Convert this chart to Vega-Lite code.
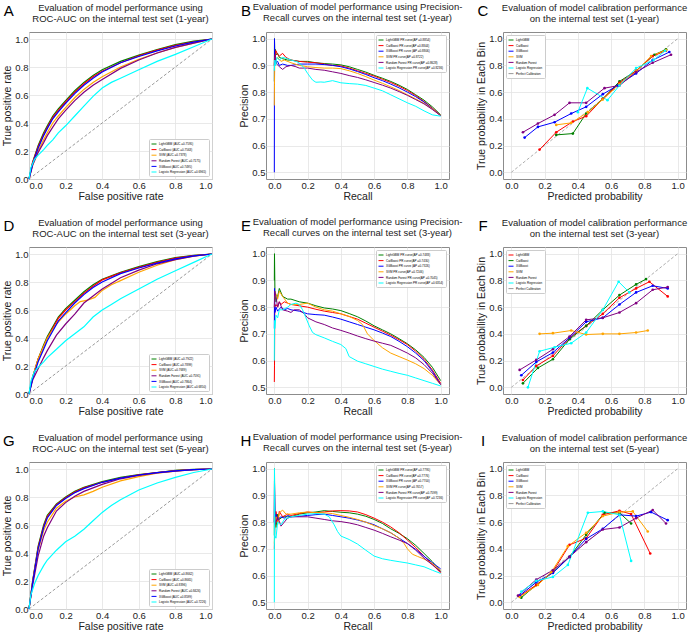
{
"$schema":"https://vega.github.io/schema/vega-lite/v6.json",
"padding":{"left":2,"top":1,"right":0,"bottom":0},
"background":"white",
"datasets":{
"rocA":[
{"m":"L","x":0,"y":0},{"m":"L","x":0.02,"y":0.12},{"m":"L","x":0.05,"y":0.24},{"m":"L","x":0.08,"y":0.33},{"m":"L","x":0.1,"y":0.38},{"m":"L","x":0.13,"y":0.45},{"m":"L","x":0.16,"y":0.5},{"m":"L","x":0.2,"y":0.56},{"m":"L","x":0.25,"y":0.63},{"m":"L","x":0.3,"y":0.69},{"m":"L","x":0.35,"y":0.74},{"m":"L","x":0.4,"y":0.78},{"m":"L","x":0.5,"y":0.84},{"m":"L","x":0.6,"y":0.885},{"m":"L","x":0.7,"y":0.925},{"m":"L","x":0.8,"y":0.96},{"m":"L","x":0.9,"y":0.985},{"m":"L","x":1,"y":1},
{"m":"C","x":0,"y":0},{"m":"C","x":0.02,"y":0.12},{"m":"C","x":0.05,"y":0.23},{"m":"C","x":0.08,"y":0.32},{"m":"C","x":0.1,"y":0.37},{"m":"C","x":0.13,"y":0.44},{"m":"C","x":0.16,"y":0.49},{"m":"C","x":0.2,"y":0.55},{"m":"C","x":0.25,"y":0.62},{"m":"C","x":0.3,"y":0.68},{"m":"C","x":0.35,"y":0.73},{"m":"C","x":0.4,"y":0.77},{"m":"C","x":0.5,"y":0.83},{"m":"C","x":0.6,"y":0.88},{"m":"C","x":0.7,"y":0.92},{"m":"C","x":0.8,"y":0.955},{"m":"C","x":0.9,"y":0.98},{"m":"C","x":1,"y":1},
{"m":"S","x":0,"y":0},{"m":"S","x":0.02,"y":0.1},{"m":"S","x":0.05,"y":0.2},{"m":"S","x":0.08,"y":0.28},{"m":"S","x":0.1,"y":0.33},{"m":"S","x":0.13,"y":0.4},{"m":"S","x":0.16,"y":0.45},{"m":"S","x":0.2,"y":0.51},{"m":"S","x":0.25,"y":0.58},{"m":"S","x":0.3,"y":0.64},{"m":"S","x":0.35,"y":0.69},{"m":"S","x":0.4,"y":0.73},{"m":"S","x":0.5,"y":0.8},{"m":"S","x":0.6,"y":0.855},{"m":"S","x":0.7,"y":0.9},{"m":"S","x":0.8,"y":0.94},{"m":"S","x":0.9,"y":0.97},{"m":"S","x":1,"y":1},
{"m":"R","x":0,"y":0},{"m":"R","x":0.02,"y":0.1},{"m":"R","x":0.05,"y":0.19},{"m":"R","x":0.08,"y":0.26},{"m":"R","x":0.1,"y":0.31},{"m":"R","x":0.13,"y":0.37},{"m":"R","x":0.16,"y":0.43},{"m":"R","x":0.2,"y":0.49},{"m":"R","x":0.25,"y":0.56},{"m":"R","x":0.3,"y":0.62},{"m":"R","x":0.35,"y":0.67},{"m":"R","x":0.4,"y":0.71},{"m":"R","x":0.5,"y":0.79},{"m":"R","x":0.6,"y":0.85},{"m":"R","x":0.7,"y":0.9},{"m":"R","x":0.8,"y":0.94},{"m":"R","x":0.9,"y":0.97},{"m":"R","x":1,"y":1},
{"m":"X","x":0,"y":0},{"m":"X","x":0.02,"y":0.11},{"m":"X","x":0.05,"y":0.22},{"m":"X","x":0.08,"y":0.31},{"m":"X","x":0.1,"y":0.36},{"m":"X","x":0.13,"y":0.43},{"m":"X","x":0.16,"y":0.48},{"m":"X","x":0.2,"y":0.54},{"m":"X","x":0.25,"y":0.61},{"m":"X","x":0.3,"y":0.67},{"m":"X","x":0.35,"y":0.72},{"m":"X","x":0.4,"y":0.765},{"m":"X","x":0.5,"y":0.83},{"m":"X","x":0.6,"y":0.875},{"m":"X","x":0.7,"y":0.915},{"m":"X","x":0.8,"y":0.95},{"m":"X","x":0.9,"y":0.978},{"m":"X","x":1,"y":1},
{"m":"G","x":0,"y":0},{"m":"G","x":0.01,"y":0.08},{"m":"G","x":0.03,"y":0.14},{"m":"G","x":0.05,"y":0.17},{"m":"G","x":0.08,"y":0.21},{"m":"G","x":0.1,"y":0.24},{"m":"G","x":0.13,"y":0.28},{"m":"G","x":0.16,"y":0.33},{"m":"G","x":0.2,"y":0.38},{"m":"G","x":0.25,"y":0.45},{"m":"G","x":0.3,"y":0.52},{"m":"G","x":0.35,"y":0.59},{"m":"G","x":0.4,"y":0.65},{"m":"G","x":0.45,"y":0.69},{"m":"G","x":0.5,"y":0.72},{"m":"G","x":0.6,"y":0.78},{"m":"G","x":0.7,"y":0.84},{"m":"G","x":0.8,"y":0.89},{"m":"G","x":0.9,"y":0.945},{"m":"G","x":1,"y":1}
],
"rocD":[
{"m":"L","x":0,"y":0},{"m":"L","x":0.02,"y":0.12},{"m":"L","x":0.05,"y":0.25},{"m":"L","x":0.08,"y":0.35},{"m":"L","x":0.1,"y":0.41},{"m":"L","x":0.13,"y":0.48},{"m":"L","x":0.16,"y":0.55},{"m":"L","x":0.2,"y":0.61},{"m":"L","x":0.25,"y":0.67},{"m":"L","x":0.3,"y":0.73},{"m":"L","x":0.35,"y":0.78},{"m":"L","x":0.4,"y":0.82},{"m":"L","x":0.5,"y":0.87},{"m":"L","x":0.6,"y":0.91},{"m":"L","x":0.7,"y":0.945},{"m":"L","x":0.8,"y":0.975},{"m":"L","x":0.9,"y":0.99},{"m":"L","x":1,"y":1},
{"m":"C","x":0,"y":0},{"m":"C","x":0.02,"y":0.12},{"m":"C","x":0.05,"y":0.25},{"m":"C","x":0.08,"y":0.34},{"m":"C","x":0.1,"y":0.4},{"m":"C","x":0.13,"y":0.47},{"m":"C","x":0.16,"y":0.54},{"m":"C","x":0.2,"y":0.6},{"m":"C","x":0.25,"y":0.66},{"m":"C","x":0.3,"y":0.72},{"m":"C","x":0.35,"y":0.77},{"m":"C","x":0.4,"y":0.815},{"m":"C","x":0.5,"y":0.865},{"m":"C","x":0.6,"y":0.905},{"m":"C","x":0.7,"y":0.94},{"m":"C","x":0.8,"y":0.97},{"m":"C","x":0.9,"y":0.988},{"m":"C","x":1,"y":1},
{"m":"S","x":0,"y":0},{"m":"S","x":0.02,"y":0.12},{"m":"S","x":0.05,"y":0.25},{"m":"S","x":0.08,"y":0.34},{"m":"S","x":0.1,"y":0.4},{"m":"S","x":0.15,"y":0.5},{"m":"S","x":0.2,"y":0.57},{"m":"S","x":0.25,"y":0.63},{"m":"S","x":0.28,"y":0.66},{"m":"S","x":0.32,"y":0.67},{"m":"S","x":0.36,"y":0.69},{"m":"S","x":0.4,"y":0.74},{"m":"S","x":0.45,"y":0.78},{"m":"S","x":0.5,"y":0.81},{"m":"S","x":0.6,"y":0.87},{"m":"S","x":0.7,"y":0.92},{"m":"S","x":0.8,"y":0.96},{"m":"S","x":0.9,"y":0.985},{"m":"S","x":1,"y":1},
{"m":"R","x":0,"y":0},{"m":"R","x":0.02,"y":0.1},{"m":"R","x":0.05,"y":0.18},{"m":"R","x":0.08,"y":0.26},{"m":"R","x":0.1,"y":0.31},{"m":"R","x":0.15,"y":0.42},{"m":"R","x":0.2,"y":0.5},{"m":"R","x":0.25,"y":0.57},{"m":"R","x":0.3,"y":0.65},{"m":"R","x":0.35,"y":0.7},{"m":"R","x":0.4,"y":0.75},{"m":"R","x":0.5,"y":0.83},{"m":"R","x":0.6,"y":0.885},{"m":"R","x":0.7,"y":0.93},{"m":"R","x":0.8,"y":0.96},{"m":"R","x":0.9,"y":0.985},{"m":"R","x":1,"y":1},
{"m":"X","x":0,"y":0},{"m":"X","x":0.02,"y":0.11},{"m":"X","x":0.05,"y":0.23},{"m":"X","x":0.08,"y":0.32},{"m":"X","x":0.1,"y":0.38},{"m":"X","x":0.13,"y":0.45},{"m":"X","x":0.16,"y":0.52},{"m":"X","x":0.2,"y":0.58},{"m":"X","x":0.25,"y":0.65},{"m":"X","x":0.3,"y":0.71},{"m":"X","x":0.35,"y":0.76},{"m":"X","x":0.4,"y":0.8},{"m":"X","x":0.5,"y":0.86},{"m":"X","x":0.6,"y":0.9},{"m":"X","x":0.7,"y":0.935},{"m":"X","x":0.8,"y":0.965},{"m":"X","x":0.9,"y":0.986},{"m":"X","x":1,"y":1},
{"m":"G","x":0,"y":0},{"m":"G","x":0.01,"y":0.09},{"m":"G","x":0.03,"y":0.16},{"m":"G","x":0.05,"y":0.19},{"m":"G","x":0.08,"y":0.23},{"m":"G","x":0.1,"y":0.26},{"m":"G","x":0.15,"y":0.32},{"m":"G","x":0.2,"y":0.38},{"m":"G","x":0.25,"y":0.43},{"m":"G","x":0.3,"y":0.48},{"m":"G","x":0.35,"y":0.55},{"m":"G","x":0.4,"y":0.6},{"m":"G","x":0.45,"y":0.64},{"m":"G","x":0.5,"y":0.68},{"m":"G","x":0.6,"y":0.75},{"m":"G","x":0.7,"y":0.82},{"m":"G","x":0.8,"y":0.88},{"m":"G","x":0.9,"y":0.94},{"m":"G","x":1,"y":1}
],
"rocG":[
{"m":"L","x":0,"y":0},{"m":"L","x":0.02,"y":0.2},{"m":"L","x":0.05,"y":0.45},{"m":"L","x":0.08,"y":0.6},{"m":"L","x":0.1,"y":0.67},{"m":"L","x":0.15,"y":0.75},{"m":"L","x":0.2,"y":0.8},{"m":"L","x":0.25,"y":0.84},{"m":"L","x":0.3,"y":0.87},{"m":"L","x":0.4,"y":0.91},{"m":"L","x":0.5,"y":0.94},{"m":"L","x":0.6,"y":0.96},{"m":"L","x":0.7,"y":0.975},{"m":"L","x":0.8,"y":0.99},{"m":"L","x":0.9,"y":0.997},{"m":"L","x":1,"y":1},
{"m":"C","x":0,"y":0},{"m":"C","x":0.02,"y":0.2},{"m":"C","x":0.05,"y":0.44},{"m":"C","x":0.08,"y":0.59},{"m":"C","x":0.1,"y":0.66},{"m":"C","x":0.15,"y":0.745},{"m":"C","x":0.2,"y":0.795},{"m":"C","x":0.25,"y":0.835},{"m":"C","x":0.3,"y":0.865},{"m":"C","x":0.4,"y":0.905},{"m":"C","x":0.5,"y":0.935},{"m":"C","x":0.6,"y":0.958},{"m":"C","x":0.7,"y":0.975},{"m":"C","x":0.8,"y":0.988},{"m":"C","x":0.9,"y":0.996},{"m":"C","x":1,"y":1},
{"m":"S","x":0,"y":0},{"m":"S","x":0.02,"y":0.19},{"m":"S","x":0.05,"y":0.42},{"m":"S","x":0.08,"y":0.56},{"m":"S","x":0.1,"y":0.62},{"m":"S","x":0.15,"y":0.72},{"m":"S","x":0.2,"y":0.77},{"m":"S","x":0.25,"y":0.8},{"m":"S","x":0.3,"y":0.815},{"m":"S","x":0.35,"y":0.84},{"m":"S","x":0.4,"y":0.87},{"m":"S","x":0.5,"y":0.915},{"m":"S","x":0.6,"y":0.945},{"m":"S","x":0.7,"y":0.97},{"m":"S","x":0.8,"y":0.985},{"m":"S","x":0.9,"y":0.995},{"m":"S","x":1,"y":1},
{"m":"R","x":0,"y":0},{"m":"R","x":0.02,"y":0.17},{"m":"R","x":0.05,"y":0.38},{"m":"R","x":0.08,"y":0.52},{"m":"R","x":0.1,"y":0.58},{"m":"R","x":0.15,"y":0.7},{"m":"R","x":0.2,"y":0.76},{"m":"R","x":0.25,"y":0.805},{"m":"R","x":0.3,"y":0.84},{"m":"R","x":0.4,"y":0.89},{"m":"R","x":0.5,"y":0.93},{"m":"R","x":0.6,"y":0.955},{"m":"R","x":0.7,"y":0.972},{"m":"R","x":0.8,"y":0.985},{"m":"R","x":0.9,"y":0.995},{"m":"R","x":1,"y":1},
{"m":"X","x":0,"y":0},{"m":"X","x":0.02,"y":0.19},{"m":"X","x":0.05,"y":0.43},{"m":"X","x":0.08,"y":0.58},{"m":"X","x":0.1,"y":0.65},{"m":"X","x":0.15,"y":0.74},{"m":"X","x":0.2,"y":0.79},{"m":"X","x":0.25,"y":0.83},{"m":"X","x":0.3,"y":0.86},{"m":"X","x":0.4,"y":0.905},{"m":"X","x":0.5,"y":0.935},{"m":"X","x":0.6,"y":0.957},{"m":"X","x":0.7,"y":0.974},{"m":"X","x":0.8,"y":0.987},{"m":"X","x":0.9,"y":0.996},{"m":"X","x":1,"y":1},
{"m":"G","x":0,"y":0},{"m":"G","x":0.01,"y":0.1},{"m":"G","x":0.03,"y":0.18},{"m":"G","x":0.05,"y":0.24},{"m":"G","x":0.08,"y":0.31},{"m":"G","x":0.1,"y":0.35},{"m":"G","x":0.15,"y":0.42},{"m":"G","x":0.2,"y":0.48},{"m":"G","x":0.25,"y":0.52},{"m":"G","x":0.3,"y":0.57},{"m":"G","x":0.35,"y":0.63},{"m":"G","x":0.4,"y":0.69},{"m":"G","x":0.45,"y":0.74},{"m":"G","x":0.5,"y":0.78},{"m":"G","x":0.6,"y":0.85},{"m":"G","x":0.7,"y":0.9},{"m":"G","x":0.8,"y":0.94},{"m":"G","x":0.9,"y":0.975},{"m":"G","x":1,"y":1}
],
"prB":[
{"m":"L","x":0,"y":0.84},{"m":"L","x":0.001,"y":1.0},{"m":"L","x":0.003,"y":0.93},{"m":"L","x":0.006,"y":0.96},{"m":"L","x":0.01,"y":0.94},{"m":"L","x":0.02,"y":0.945},{"m":"L","x":0.03,"y":0.93},{"m":"L","x":0.05,"y":0.925},{"m":"L","x":0.08,"y":0.92},{"m":"L","x":0.1,"y":0.92},{"m":"L","x":0.15,"y":0.915},{"m":"L","x":0.2,"y":0.915},{"m":"L","x":0.25,"y":0.91},{"m":"L","x":0.3,"y":0.907},{"m":"L","x":0.35,"y":0.905},{"m":"L","x":0.4,"y":0.902},{"m":"L","x":0.45,"y":0.895},{"m":"L","x":0.5,"y":0.885},{"m":"L","x":0.55,"y":0.875},{"m":"L","x":0.6,"y":0.863},{"m":"L","x":0.65,"y":0.852},{"m":"L","x":0.7,"y":0.84},{"m":"L","x":0.75,"y":0.826},{"m":"L","x":0.8,"y":0.81},{"m":"L","x":0.85,"y":0.79},{"m":"L","x":0.9,"y":0.77},{"m":"L","x":0.95,"y":0.745},{"m":"L","x":1,"y":0.715},
{"m":"C","x":0,"y":0.9},{"m":"C","x":0.002,"y":0.96},{"m":"C","x":0.005,"y":0.93},{"m":"C","x":0.01,"y":0.955},{"m":"C","x":0.02,"y":0.94},{"m":"C","x":0.03,"y":0.935},{"m":"C","x":0.05,"y":0.945},{"m":"C","x":0.07,"y":0.93},{"m":"C","x":0.1,"y":0.92},{"m":"C","x":0.15,"y":0.915},{"m":"C","x":0.2,"y":0.912},{"m":"C","x":0.25,"y":0.91},{"m":"C","x":0.3,"y":0.905},{"m":"C","x":0.35,"y":0.9},{"m":"C","x":0.4,"y":0.898},{"m":"C","x":0.45,"y":0.89},{"m":"C","x":0.5,"y":0.88},{"m":"C","x":0.55,"y":0.87},{"m":"C","x":0.6,"y":0.86},{"m":"C","x":0.65,"y":0.848},{"m":"C","x":0.7,"y":0.836},{"m":"C","x":0.75,"y":0.822},{"m":"C","x":0.8,"y":0.806},{"m":"C","x":0.85,"y":0.787},{"m":"C","x":0.9,"y":0.765},{"m":"C","x":0.95,"y":0.74},{"m":"C","x":1,"y":0.713},
{"m":"X","x":0,"y":0.5},{"m":"X","x":0.001,"y":1.0},{"m":"X","x":0.003,"y":0.9},{"m":"X","x":0.006,"y":0.93},{"m":"X","x":0.01,"y":0.91},{"m":"X","x":0.02,"y":0.915},{"m":"X","x":0.03,"y":0.9},{"m":"X","x":0.05,"y":0.905},{"m":"X","x":0.08,"y":0.9},{"m":"X","x":0.1,"y":0.9},{"m":"X","x":0.15,"y":0.905},{"m":"X","x":0.2,"y":0.905},{"m":"X","x":0.25,"y":0.905},{"m":"X","x":0.3,"y":0.903},{"m":"X","x":0.35,"y":0.9},{"m":"X","x":0.4,"y":0.895},{"m":"X","x":0.45,"y":0.887},{"m":"X","x":0.5,"y":0.877},{"m":"X","x":0.55,"y":0.866},{"m":"X","x":0.6,"y":0.854},{"m":"X","x":0.65,"y":0.843},{"m":"X","x":0.7,"y":0.83},{"m":"X","x":0.75,"y":0.816},{"m":"X","x":0.8,"y":0.8},{"m":"X","x":0.85,"y":0.783},{"m":"X","x":0.9,"y":0.763},{"m":"X","x":0.95,"y":0.738},{"m":"X","x":1,"y":0.712},
{"m":"S","x":0,"y":0.75},{"m":"S","x":0.001,"y":0.83},{"m":"S","x":0.003,"y":0.93},{"m":"S","x":0.01,"y":0.92},{"m":"S","x":0.02,"y":0.93},{"m":"S","x":0.04,"y":0.915},{"m":"S","x":0.06,"y":0.92},{"m":"S","x":0.1,"y":0.91},{"m":"S","x":0.15,"y":0.9},{"m":"S","x":0.2,"y":0.895},{"m":"S","x":0.25,"y":0.892},{"m":"S","x":0.3,"y":0.89},{"m":"S","x":0.35,"y":0.89},{"m":"S","x":0.4,"y":0.888},{"m":"S","x":0.45,"y":0.88},{"m":"S","x":0.5,"y":0.87},{"m":"S","x":0.55,"y":0.858},{"m":"S","x":0.6,"y":0.845},{"m":"S","x":0.65,"y":0.833},{"m":"S","x":0.7,"y":0.82},{"m":"S","x":0.75,"y":0.806},{"m":"S","x":0.8,"y":0.79},{"m":"S","x":0.85,"y":0.775},{"m":"S","x":0.9,"y":0.758},{"m":"S","x":0.95,"y":0.737},{"m":"S","x":1,"y":0.712},
{"m":"R","x":0,"y":0.9},{"m":"R","x":0.003,"y":0.94},{"m":"R","x":0.008,"y":0.92},{"m":"R","x":0.015,"y":0.905},{"m":"R","x":0.03,"y":0.895},{"m":"R","x":0.05,"y":0.885},{"m":"R","x":0.07,"y":0.895},{"m":"R","x":0.1,"y":0.9},{"m":"R","x":0.13,"y":0.895},{"m":"R","x":0.15,"y":0.89},{"m":"R","x":0.2,"y":0.89},{"m":"R","x":0.25,"y":0.885},{"m":"R","x":0.3,"y":0.882},{"m":"R","x":0.35,"y":0.876},{"m":"R","x":0.4,"y":0.87},{"m":"R","x":0.45,"y":0.862},{"m":"R","x":0.5,"y":0.855},{"m":"R","x":0.55,"y":0.846},{"m":"R","x":0.6,"y":0.836},{"m":"R","x":0.65,"y":0.826},{"m":"R","x":0.7,"y":0.815},{"m":"R","x":0.75,"y":0.802},{"m":"R","x":0.8,"y":0.788},{"m":"R","x":0.85,"y":0.772},{"m":"R","x":0.9,"y":0.756},{"m":"R","x":0.95,"y":0.735},{"m":"R","x":1,"y":0.712},
{"m":"G","x":0,"y":0.88},{"m":"G","x":0.003,"y":0.92},{"m":"G","x":0.008,"y":0.9},{"m":"G","x":0.015,"y":0.93},{"m":"G","x":0.03,"y":0.92},{"m":"G","x":0.05,"y":0.93},{"m":"G","x":0.08,"y":0.925},{"m":"G","x":0.1,"y":0.92},{"m":"G","x":0.13,"y":0.915},{"m":"G","x":0.15,"y":0.91},{"m":"G","x":0.18,"y":0.89},{"m":"G","x":0.2,"y":0.87},{"m":"G","x":0.23,"y":0.845},{"m":"G","x":0.25,"y":0.837},{"m":"G","x":0.28,"y":0.838},{"m":"G","x":0.3,"y":0.837},{"m":"G","x":0.35,"y":0.843},{"m":"G","x":0.4,"y":0.835},{"m":"G","x":0.45,"y":0.832},{"m":"G","x":0.5,"y":0.83},{"m":"G","x":0.55,"y":0.825},{"m":"G","x":0.6,"y":0.815},{"m":"G","x":0.65,"y":0.805},{"m":"G","x":0.7,"y":0.79},{"m":"G","x":0.75,"y":0.775},{"m":"G","x":0.8,"y":0.76},{"m":"G","x":0.85,"y":0.747},{"m":"G","x":0.9,"y":0.73},{"m":"G","x":0.95,"y":0.715},{"m":"G","x":1,"y":0.71}
],
"prE":[
{"m":"L","x":0,"y":0.9},{"m":"L","x":0.001,"y":1.0},{"m":"L","x":0.004,"y":0.85},{"m":"L","x":0.01,"y":0.82},{"m":"L","x":0.02,"y":0.84},{"m":"L","x":0.03,"y":0.87},{"m":"L","x":0.05,"y":0.84},{"m":"L","x":0.08,"y":0.83},{"m":"L","x":0.1,"y":0.83},{"m":"L","x":0.15,"y":0.82},{"m":"L","x":0.2,"y":0.815},{"m":"L","x":0.25,"y":0.805},{"m":"L","x":0.3,"y":0.797},{"m":"L","x":0.35,"y":0.793},{"m":"L","x":0.4,"y":0.787},{"m":"L","x":0.45,"y":0.776},{"m":"L","x":0.5,"y":0.764},{"m":"L","x":0.55,"y":0.748},{"m":"L","x":0.6,"y":0.73},{"m":"L","x":0.65,"y":0.715},{"m":"L","x":0.7,"y":0.7},{"m":"L","x":0.75,"y":0.682},{"m":"L","x":0.8,"y":0.663},{"m":"L","x":0.85,"y":0.64},{"m":"L","x":0.9,"y":0.612},{"m":"L","x":0.95,"y":0.575},{"m":"L","x":1,"y":0.525},
{"m":"C","x":0,"y":0.52},{"m":"C","x":0.001,"y":0.58},{"m":"C","x":0.003,"y":0.8},{"m":"C","x":0.01,"y":0.81},{"m":"C","x":0.02,"y":0.8},{"m":"C","x":0.03,"y":0.82},{"m":"C","x":0.04,"y":0.81},{"m":"C","x":0.06,"y":0.82},{"m":"C","x":0.08,"y":0.815},{"m":"C","x":0.1,"y":0.81},{"m":"C","x":0.15,"y":0.805},{"m":"C","x":0.2,"y":0.8},{"m":"C","x":0.25,"y":0.792},{"m":"C","x":0.3,"y":0.785},{"m":"C","x":0.35,"y":0.78},{"m":"C","x":0.4,"y":0.775},{"m":"C","x":0.45,"y":0.765},{"m":"C","x":0.5,"y":0.755},{"m":"C","x":0.55,"y":0.74},{"m":"C","x":0.6,"y":0.725},{"m":"C","x":0.65,"y":0.71},{"m":"C","x":0.7,"y":0.695},{"m":"C","x":0.75,"y":0.678},{"m":"C","x":0.8,"y":0.66},{"m":"C","x":0.85,"y":0.635},{"m":"C","x":0.9,"y":0.605},{"m":"C","x":0.95,"y":0.565},{"m":"C","x":1,"y":0.515},
{"m":"X","x":0,"y":0.72},{"m":"X","x":0.001,"y":0.87},{"m":"X","x":0.004,"y":0.78},{"m":"X","x":0.01,"y":0.8},{"m":"X","x":0.02,"y":0.785},{"m":"X","x":0.04,"y":0.8},{"m":"X","x":0.06,"y":0.79},{"m":"X","x":0.08,"y":0.795},{"m":"X","x":0.1,"y":0.79},{"m":"X","x":0.15,"y":0.785},{"m":"X","x":0.2,"y":0.775},{"m":"X","x":0.25,"y":0.772},{"m":"X","x":0.3,"y":0.77},{"m":"X","x":0.35,"y":0.763},{"m":"X","x":0.4,"y":0.755},{"m":"X","x":0.45,"y":0.745},{"m":"X","x":0.5,"y":0.735},{"m":"X","x":0.55,"y":0.725},{"m":"X","x":0.6,"y":0.715},{"m":"X","x":0.65,"y":0.703},{"m":"X","x":0.7,"y":0.69},{"m":"X","x":0.75,"y":0.672},{"m":"X","x":0.8,"y":0.652},{"m":"X","x":0.85,"y":0.628},{"m":"X","x":0.9,"y":0.6},{"m":"X","x":0.95,"y":0.56},{"m":"X","x":1,"y":0.51},
{"m":"S","x":0,"y":0.8},{"m":"S","x":0.003,"y":0.84},{"m":"S","x":0.01,"y":0.85},{"m":"S","x":0.02,"y":0.83},{"m":"S","x":0.03,"y":0.86},{"m":"S","x":0.05,"y":0.84},{"m":"S","x":0.08,"y":0.815},{"m":"S","x":0.1,"y":0.81},{"m":"S","x":0.15,"y":0.81},{"m":"S","x":0.2,"y":0.815},{"m":"S","x":0.25,"y":0.8},{"m":"S","x":0.3,"y":0.79},{"m":"S","x":0.35,"y":0.785},{"m":"S","x":0.4,"y":0.775},{"m":"S","x":0.45,"y":0.765},{"m":"S","x":0.5,"y":0.75},{"m":"S","x":0.53,"y":0.735},{"m":"S","x":0.56,"y":0.7},{"m":"S","x":0.6,"y":0.675},{"m":"S","x":0.65,"y":0.648},{"m":"S","x":0.7,"y":0.628},{"m":"S","x":0.75,"y":0.615},{"m":"S","x":0.8,"y":0.602},{"m":"S","x":0.85,"y":0.588},{"m":"S","x":0.9,"y":0.57},{"m":"S","x":0.95,"y":0.545},{"m":"S","x":1,"y":0.51},
{"m":"R","x":0,"y":0.8},{"m":"R","x":0.003,"y":0.86},{"m":"R","x":0.01,"y":0.84},{"m":"R","x":0.02,"y":0.8},{"m":"R","x":0.03,"y":0.82},{"m":"R","x":0.05,"y":0.79},{"m":"R","x":0.08,"y":0.785},{"m":"R","x":0.1,"y":0.78},{"m":"R","x":0.12,"y":0.79},{"m":"R","x":0.15,"y":0.79},{"m":"R","x":0.18,"y":0.775},{"m":"R","x":0.2,"y":0.76},{"m":"R","x":0.25,"y":0.745},{"m":"R","x":0.3,"y":0.735},{"m":"R","x":0.35,"y":0.722},{"m":"R","x":0.4,"y":0.713},{"m":"R","x":0.45,"y":0.703},{"m":"R","x":0.5,"y":0.692},{"m":"R","x":0.55,"y":0.682},{"m":"R","x":0.6,"y":0.673},{"m":"R","x":0.65,"y":0.665},{"m":"R","x":0.7,"y":0.657},{"m":"R","x":0.75,"y":0.643},{"m":"R","x":0.8,"y":0.628},{"m":"R","x":0.85,"y":0.61},{"m":"R","x":0.9,"y":0.585},{"m":"R","x":0.95,"y":0.553},{"m":"R","x":1,"y":0.51},
{"m":"G","x":0,"y":0.6},{"m":"G","x":0.001,"y":0.75},{"m":"G","x":0.003,"y":0.72},{"m":"G","x":0.01,"y":0.77},{"m":"G","x":0.02,"y":0.76},{"m":"G","x":0.03,"y":0.79},{"m":"G","x":0.05,"y":0.79},{"m":"G","x":0.08,"y":0.8},{"m":"G","x":0.1,"y":0.81},{"m":"G","x":0.13,"y":0.815},{"m":"G","x":0.15,"y":0.81},{"m":"G","x":0.17,"y":0.79},{"m":"G","x":0.19,"y":0.76},{"m":"G","x":0.21,"y":0.73},{"m":"G","x":0.23,"y":0.705},{"m":"G","x":0.25,"y":0.697},{"m":"G","x":0.3,"y":0.685},{"m":"G","x":0.35,"y":0.672},{"m":"G","x":0.4,"y":0.66},{"m":"G","x":0.43,"y":0.645},{"m":"G","x":0.45,"y":0.615},{"m":"G","x":0.5,"y":0.598},{"m":"G","x":0.55,"y":0.588},{"m":"G","x":0.6,"y":0.578},{"m":"G","x":0.65,"y":0.568},{"m":"G","x":0.7,"y":0.56},{"m":"G","x":0.75,"y":0.552},{"m":"G","x":0.8,"y":0.545},{"m":"G","x":0.85,"y":0.535},{"m":"G","x":0.9,"y":0.525},{"m":"G","x":0.95,"y":0.515},{"m":"G","x":1,"y":0.505}
],
"prH":[
{"m":"L","x":0,"y":0.75},{"m":"L","x":0.001,"y":1.0},{"m":"L","x":0.003,"y":0.8},{"m":"L","x":0.01,"y":0.78},{"m":"L","x":0.02,"y":0.83},{"m":"L","x":0.03,"y":0.81},{"m":"L","x":0.05,"y":0.82},{"m":"L","x":0.08,"y":0.82},{"m":"L","x":0.1,"y":0.82},{"m":"L","x":0.15,"y":0.83},{"m":"L","x":0.2,"y":0.835},{"m":"L","x":0.25,"y":0.838},{"m":"L","x":0.3,"y":0.843},{"m":"L","x":0.35,"y":0.84},{"m":"L","x":0.4,"y":0.837},{"m":"L","x":0.45,"y":0.835},{"m":"L","x":0.5,"y":0.83},{"m":"L","x":0.55,"y":0.822},{"m":"L","x":0.6,"y":0.81},{"m":"L","x":0.65,"y":0.795},{"m":"L","x":0.7,"y":0.775},{"m":"L","x":0.75,"y":0.758},{"m":"L","x":0.8,"y":0.738},{"m":"L","x":0.85,"y":0.713},{"m":"L","x":0.9,"y":0.683},{"m":"L","x":0.95,"y":0.652},{"m":"L","x":1,"y":0.615},
{"m":"C","x":0,"y":0.7},{"m":"C","x":0.003,"y":0.78},{"m":"C","x":0.01,"y":0.84},{"m":"C","x":0.02,"y":0.8},{"m":"C","x":0.03,"y":0.84},{"m":"C","x":0.05,"y":0.82},{"m":"C","x":0.08,"y":0.83},{"m":"C","x":0.1,"y":0.825},{"m":"C","x":0.15,"y":0.832},{"m":"C","x":0.2,"y":0.838},{"m":"C","x":0.25,"y":0.835},{"m":"C","x":0.3,"y":0.838},{"m":"C","x":0.35,"y":0.842},{"m":"C","x":0.4,"y":0.843},{"m":"C","x":0.45,"y":0.842},{"m":"C","x":0.5,"y":0.838},{"m":"C","x":0.55,"y":0.828},{"m":"C","x":0.6,"y":0.815},{"m":"C","x":0.65,"y":0.8},{"m":"C","x":0.7,"y":0.782},{"m":"C","x":0.75,"y":0.76},{"m":"C","x":0.8,"y":0.733},{"m":"C","x":0.85,"y":0.705},{"m":"C","x":0.9,"y":0.673},{"m":"C","x":0.95,"y":0.642},{"m":"C","x":1,"y":0.61},
{"m":"X","x":0,"y":0.8},{"m":"X","x":0.001,"y":0.955},{"m":"X","x":0.004,"y":0.8},{"m":"X","x":0.01,"y":0.83},{"m":"X","x":0.02,"y":0.81},{"m":"X","x":0.04,"y":0.82},{"m":"X","x":0.06,"y":0.815},{"m":"X","x":0.08,"y":0.825},{"m":"X","x":0.1,"y":0.82},{"m":"X","x":0.15,"y":0.822},{"m":"X","x":0.2,"y":0.825},{"m":"X","x":0.25,"y":0.828},{"m":"X","x":0.3,"y":0.83},{"m":"X","x":0.35,"y":0.825},{"m":"X","x":0.4,"y":0.82},{"m":"X","x":0.45,"y":0.815},{"m":"X","x":0.5,"y":0.808},{"m":"X","x":0.55,"y":0.8},{"m":"X","x":0.6,"y":0.79},{"m":"X","x":0.65,"y":0.775},{"m":"X","x":0.7,"y":0.76},{"m":"X","x":0.75,"y":0.74},{"m":"X","x":0.8,"y":0.72},{"m":"X","x":0.85,"y":0.698},{"m":"X","x":0.9,"y":0.672},{"m":"X","x":0.95,"y":0.648},{"m":"X","x":1,"y":0.625},
{"m":"S","x":0,"y":0.72},{"m":"S","x":0.003,"y":0.8},{"m":"S","x":0.01,"y":0.82},{"m":"S","x":0.02,"y":0.79},{"m":"S","x":0.03,"y":0.835},{"m":"S","x":0.05,"y":0.845},{"m":"S","x":0.07,"y":0.83},{"m":"S","x":0.1,"y":0.83},{"m":"S","x":0.15,"y":0.835},{"m":"S","x":0.2,"y":0.838},{"m":"S","x":0.25,"y":0.835},{"m":"S","x":0.3,"y":0.835},{"m":"S","x":0.35,"y":0.832},{"m":"S","x":0.4,"y":0.825},{"m":"S","x":0.45,"y":0.818},{"m":"S","x":0.5,"y":0.81},{"m":"S","x":0.55,"y":0.8},{"m":"S","x":0.6,"y":0.787},{"m":"S","x":0.65,"y":0.775},{"m":"S","x":0.7,"y":0.76},{"m":"S","x":0.75,"y":0.74},{"m":"S","x":0.78,"y":0.72},{"m":"S","x":0.8,"y":0.7},{"m":"S","x":0.83,"y":0.68},{"m":"S","x":0.86,"y":0.672},{"m":"S","x":0.9,"y":0.662},{"m":"S","x":0.95,"y":0.645},{"m":"S","x":1,"y":0.62},
{"m":"R","x":0,"y":0.8},{"m":"R","x":0.001,"y":0.955},{"m":"R","x":0.004,"y":0.79},{"m":"R","x":0.01,"y":0.8},{"m":"R","x":0.02,"y":0.82},{"m":"R","x":0.04,"y":0.785},{"m":"R","x":0.06,"y":0.8},{"m":"R","x":0.08,"y":0.815},{"m":"R","x":0.1,"y":0.82},{"m":"R","x":0.15,"y":0.82},{"m":"R","x":0.2,"y":0.82},{"m":"R","x":0.25,"y":0.815},{"m":"R","x":0.3,"y":0.81},{"m":"R","x":0.35,"y":0.805},{"m":"R","x":0.4,"y":0.802},{"m":"R","x":0.45,"y":0.797},{"m":"R","x":0.5,"y":0.79},{"m":"R","x":0.55,"y":0.78},{"m":"R","x":0.6,"y":0.77},{"m":"R","x":0.65,"y":0.758},{"m":"R","x":0.7,"y":0.745},{"m":"R","x":0.75,"y":0.733},{"m":"R","x":0.8,"y":0.72},{"m":"R","x":0.85,"y":0.695},{"m":"R","x":0.9,"y":0.665},{"m":"R","x":0.95,"y":0.64},{"m":"R","x":1,"y":0.615},
{"m":"G","x":0,"y":0.5},{"m":"G","x":0.001,"y":1.0},{"m":"G","x":0.003,"y":0.75},{"m":"G","x":0.01,"y":0.74},{"m":"G","x":0.02,"y":0.8},{"m":"G","x":0.04,"y":0.79},{"m":"G","x":0.06,"y":0.81},{"m":"G","x":0.08,"y":0.815},{"m":"G","x":0.1,"y":0.82},{"m":"G","x":0.15,"y":0.825},{"m":"G","x":0.2,"y":0.83},{"m":"G","x":0.25,"y":0.832},{"m":"G","x":0.3,"y":0.83},{"m":"G","x":0.33,"y":0.82},{"m":"G","x":0.36,"y":0.79},{"m":"G","x":0.38,"y":0.765},{"m":"G","x":0.4,"y":0.748},{"m":"G","x":0.45,"y":0.735},{"m":"G","x":0.5,"y":0.718},{"m":"G","x":0.55,"y":0.695},{"m":"G","x":0.6,"y":0.673},{"m":"G","x":0.65,"y":0.663},{"m":"G","x":0.7,"y":0.657},{"m":"G","x":0.75,"y":0.652},{"m":"G","x":0.8,"y":0.647},{"m":"G","x":0.85,"y":0.64},{"m":"G","x":0.9,"y":0.633},{"m":"G","x":0.95,"y":0.62},{"m":"G","x":1,"y":0.608}
],
"calC":[
{"m":"L","x":0.27,"y":0.28},{"m":"L","x":0.37,"y":0.29},{"m":"L","x":0.45,"y":0.44},{"m":"L","x":0.55,"y":0.55},{"m":"L","x":0.65,"y":0.68},{"m":"L","x":0.75,"y":0.76},{"m":"L","x":0.86,"y":0.88},{"m":"L","x":0.93,"y":0.92},
{"m":"C","x":0.17,"y":0.17},{"m":"C","x":0.27,"y":0.3},{"m":"C","x":0.37,"y":0.38},{"m":"C","x":0.45,"y":0.42},{"m":"C","x":0.55,"y":0.55},{"m":"C","x":0.65,"y":0.67},{"m":"C","x":0.75,"y":0.76},{"m":"C","x":0.85,"y":0.87},{"m":"C","x":0.93,"y":0.91},
{"m":"X","x":0.08,"y":0.26},{"m":"X","x":0.16,"y":0.34},{"m":"X","x":0.26,"y":0.375},{"m":"X","x":0.36,"y":0.44},{"m":"X","x":0.45,"y":0.49},{"m":"X","x":0.55,"y":0.585},{"m":"X","x":0.64,"y":0.65},{"m":"X","x":0.75,"y":0.74},{"m":"X","x":0.85,"y":0.84},{"m":"X","x":0.95,"y":0.9},
{"m":"S","x":0.27,"y":0.355},{"m":"S","x":0.36,"y":0.37},{"m":"S","x":0.46,"y":0.45},{"m":"S","x":0.55,"y":0.545},{"m":"S","x":0.65,"y":0.66},{"m":"S","x":0.75,"y":0.755},{"m":"S","x":0.84,"y":0.87},{"m":"S","x":0.93,"y":0.915},
{"m":"R","x":0.07,"y":0.3},{"m":"R","x":0.16,"y":0.365},{"m":"R","x":0.26,"y":0.43},{"m":"R","x":0.35,"y":0.52},{"m":"R","x":0.45,"y":0.52},{"m":"R","x":0.56,"y":0.63},{"m":"R","x":0.65,"y":0.65},{"m":"R","x":0.75,"y":0.75},{"m":"R","x":0.85,"y":0.82},{"m":"R","x":0.96,"y":0.88},
{"m":"G","x":0.4,"y":0.45},{"m":"G","x":0.457,"y":0.63},{"m":"G","x":0.578,"y":0.54},{"m":"G","x":0.65,"y":0.65},{"m":"G","x":0.75,"y":0.78},{"m":"G","x":0.855,"y":0.84},{"m":"G","x":0.925,"y":0.91}
],
"calF":[
{"m":"L","x":0.07,"y":0.055},{"m":"L","x":0.15,"y":0.16},{"m":"L","x":0.25,"y":0.235},{"m":"L","x":0.35,"y":0.37},{"m":"L","x":0.45,"y":0.46},{"m":"L","x":0.55,"y":0.55},{"m":"L","x":0.65,"y":0.67},{"m":"L","x":0.75,"y":0.74},{"m":"L","x":0.83,"y":0.79},{"m":"L","x":0.94,"y":0.68},
{"m":"C","x":0.07,"y":0.03},{"m":"C","x":0.16,"y":0.145},{"m":"C","x":0.25,"y":0.21},{"m":"C","x":0.35,"y":0.36},{"m":"C","x":0.45,"y":0.46},{"m":"C","x":0.55,"y":0.58},{"m":"C","x":0.65,"y":0.69},{"m":"C","x":0.75,"y":0.77},{"m":"C","x":0.81,"y":0.81},
{"m":"X","x":0.06,"y":0.09},{"m":"X","x":0.15,"y":0.19},{"m":"X","x":0.25,"y":0.26},{"m":"X","x":0.35,"y":0.37},{"m":"X","x":0.45,"y":0.49},{"m":"X","x":0.55,"y":0.52},{"m":"X","x":0.65,"y":0.62},{"m":"X","x":0.75,"y":0.71},{"m":"X","x":0.85,"y":0.76},{"m":"X","x":0.94,"y":0.74},
{"m":"S","x":0.17,"y":0.4},{"m":"S","x":0.25,"y":0.405},{"m":"S","x":0.36,"y":0.425},{"m":"S","x":0.45,"y":0.395},{"m":"S","x":0.55,"y":0.4},{"m":"S","x":0.65,"y":0.4},{"m":"S","x":0.75,"y":0.41},{"m":"S","x":0.82,"y":0.425},
{"m":"R","x":0.05,"y":0.13},{"m":"R","x":0.15,"y":0.205},{"m":"R","x":0.25,"y":0.285},{"m":"R","x":0.35,"y":0.38},{"m":"R","x":0.45,"y":0.505},{"m":"R","x":0.55,"y":0.52},{"m":"R","x":0.65,"y":0.56},{"m":"R","x":0.75,"y":0.63},{"m":"R","x":0.85,"y":0.73},{"m":"R","x":0.94,"y":0.75},
{"m":"G","x":0.1,"y":0.0},{"m":"G","x":0.17,"y":0.27},{"m":"G","x":0.26,"y":0.3},{"m":"G","x":0.36,"y":0.33},{"m":"G","x":0.45,"y":0.41},{"m":"G","x":0.55,"y":0.58},{"m":"G","x":0.645,"y":0.79},{"m":"G","x":0.71,"y":0.71}
],
"calI":[
{"m":"L","x":0.06,"y":0.035},{"m":"L","x":0.15,"y":0.13},{"m":"L","x":0.25,"y":0.225},{"m":"L","x":0.35,"y":0.34},{"m":"L","x":0.45,"y":0.505},{"m":"L","x":0.56,"y":0.67},{"m":"L","x":0.65,"y":0.67},{"m":"L","x":0.72,"y":0.59},
{"m":"C","x":0.05,"y":0.045},{"m":"C","x":0.15,"y":0.13},{"m":"C","x":0.25,"y":0.23},{"m":"C","x":0.35,"y":0.43},{"m":"C","x":0.45,"y":0.48},{"m":"C","x":0.55,"y":0.655},{"m":"C","x":0.65,"y":0.685},{"m":"C","x":0.72,"y":0.66},{"m":"C","x":0.835,"y":0.365},
{"m":"X","x":0.05,"y":0.05},{"m":"X","x":0.15,"y":0.15},{"m":"X","x":0.25,"y":0.22},{"m":"X","x":0.35,"y":0.34},{"m":"X","x":0.45,"y":0.475},{"m":"X","x":0.55,"y":0.55},{"m":"X","x":0.65,"y":0.655},{"m":"X","x":0.75,"y":0.645},{"m":"X","x":0.84,"y":0.675},{"m":"X","x":0.94,"y":0.615},
{"m":"S","x":0.05,"y":0.04},{"m":"S","x":0.16,"y":0.13},{"m":"S","x":0.24,"y":0.225},{"m":"S","x":0.34,"y":0.42},{"m":"S","x":0.45,"y":0.52},{"m":"S","x":0.55,"y":0.645},{"m":"S","x":0.65,"y":0.675},{"m":"S","x":0.73,"y":0.68},{"m":"S","x":0.82,"y":0.53},
{"m":"R","x":0.04,"y":0.05},{"m":"R","x":0.15,"y":0.17},{"m":"R","x":0.25,"y":0.24},{"m":"R","x":0.35,"y":0.34},{"m":"R","x":0.45,"y":0.45},{"m":"R","x":0.55,"y":0.545},{"m":"R","x":0.65,"y":0.56},{"m":"R","x":0.75,"y":0.63},{"m":"R","x":0.85,"y":0.69},{"m":"R","x":0.93,"y":0.59},
{"m":"G","x":0.06,"y":0.08},{"m":"G","x":0.15,"y":0.16},{"m":"G","x":0.25,"y":0.19},{"m":"G","x":0.34,"y":0.28},{"m":"G","x":0.46,"y":0.67},{"m":"G","x":0.55,"y":0.68},{"m":"G","x":0.65,"y":0.655},{"m":"G","x":0.72,"y":0.31}
],
"diag":[{"m":"P","x":0,"y":0},{"m":"P","x":1,"y":1}]
},
"columns":3,
"bounds":"flush",
"spacing":{"row":68,"column":54},
"resolve":{"scale":{"color":"independent","x":"independent","y":"independent"},"legend":{"color":"independent"}},
"concat":[
{"width":183,"height":147,"title":{"text":["Evaluation of model performance using","ROC-AUC on the internal test set (1-year)"]},
"layer":[
{"data":{"name":"diag"},"mark":{"type":"line","color":"#808080","strokeDash":[3,2],"strokeWidth":0.8},"encoding":{"x":{"field":"x","type":"quantitative","scale":{"domain":[0,1],"nice":false,"zero":false},"axis":{"title":"False positive rate","values":[0,0.2,0.4,0.6,0.8,1]}},"y":{"field":"y","type":"quantitative","scale":{"domain":[0,1.05],"nice":false,"zero":false},"axis":{"title":"True positive rate","values":[0,0.2,0.4,0.6,0.8,1]}}}},
{"data":{"name":"rocA"},"mark":{"type":"line","strokeWidth":1.2},"encoding":{"x":{"field":"x","type":"quantitative","scale":{"domain":[0,1],"nice":false,"zero":false},"axis":{"title":"False positive rate","values":[0,0.2,0.4,0.6,0.8,1]}},"y":{"field":"y","type":"quantitative","scale":{"domain":[0,1.05],"nice":false,"zero":false},"axis":{"title":"True positive rate","values":[0,0.2,0.4,0.6,0.8,1]}},"color":{"field":"m","type":"nominal","scale":{"domain":["L","C","S","R","X","G"],"range":["#008000","#ff0000","#ffa500","#800080","#0000ff","#00ffff"]},"legend":{"orient":"bottom-right","labelExpr":"datum.value=='L'?'LightGBM (AUC =0.7595)':datum.value=='C'?'CatBoost (AUC =0.7563)':datum.value=='S'?'SVM (AUC =0.7378)':datum.value=='R'?'Random Forest (AUC =0.7175)':datum.value=='X'?'XGBoost (AUC =0.7495)':'Logistic Regression (AUC =0.6965)'"}}}},
{"data":{"values":[{"t":"A"}]},"mark":{"type":"text","fontSize":15,"align":"center","baseline":"middle","color":"black"},"encoding":{"x":{"datum":-0.11,"type":"quantitative","scale":{"domain":[0,1],"nice":false,"zero":false},"axis":{"title":"False positive rate","values":[0,0.2,0.4,0.6,0.8,1]}},"y":{"datum":1.2,"type":"quantitative","scale":{"domain":[0,1.05],"nice":false,"zero":false},"axis":{"title":"True positive rate","values":[0,0.2,0.4,0.6,0.8,1]}},"text":{"field":"t","type":"nominal"}}}
]},
{"width":183,"height":147,"title":{"text":["Evaluation of model performance using Precision-","Recall curves on the internal test set (1-year)"]},
"layer":[
{"data":{"name":"prB"},"mark":{"type":"line","strokeWidth":1},"encoding":{"x":{"field":"x","type":"quantitative","scale":{"domain":[-0.05,1.05],"nice":false,"zero":false},"axis":{"title":"Recall","values":[0,0.2,0.4,0.6,0.8,1]}},"y":{"field":"y","type":"quantitative","scale":{"domain":[0.475,1.025],"nice":false,"zero":false},"axis":{"title":"Precision","values":[0.5,0.6,0.7,0.8,0.9,1]}},"color":{"field":"m","type":"nominal","scale":{"domain":["L","C","X","S","R","G"],"range":["#008000","#ff0000","#0000ff","#ffa500","#800080","#00ffff"]},"legend":{"orient":"top-right","labelExpr":"datum.value=='L'?'LightGBM PR curve(AP =0.8854)':datum.value=='C'?'CatBoost PR curve(AP =0.8844)':datum.value=='X'?'XGBoost PR curve (AP =0.8806)':datum.value=='S'?'SVM PR curve(AP =0.8722)':datum.value=='R'?'Random Forest PR curve(AP =0.8628)':'Logistic Regression PR curve(AP =0.8236)'"}}}},
{"data":{"values":[{"t":"B"}]},"mark":{"type":"text","fontSize":15,"align":"center","baseline":"middle","color":"black"},"encoding":{"x":{"datum":-0.17,"type":"quantitative","scale":{"domain":[-0.05,1.05],"nice":false,"zero":false},"axis":{"title":"Recall","values":[0,0.2,0.4,0.6,0.8,1]}},"y":{"datum":1.104,"type":"quantitative","scale":{"domain":[0.475,1.025],"nice":false,"zero":false},"axis":{"title":"Precision","values":[0.5,0.6,0.7,0.8,0.9,1]}},"text":{"field":"t","type":"nominal"}}}
]},
{"width":183,"height":147,"title":{"text":["Evaluation of model calibration performance","on the internal test set (1-year)"]},
"layer":[
{"data":{"name":"diag"},"mark":{"type":"line","strokeDash":[3,2],"strokeWidth":0.8},"encoding":{"x":{"field":"x","type":"quantitative","scale":{"domain":[-0.05,1.05],"nice":false,"zero":false},"axis":{"title":"Predicted probability","values":[0,0.2,0.4,0.6,0.8,1]}},"y":{"field":"y","type":"quantitative","scale":{"domain":[-0.05,1.05],"nice":false,"zero":false},"axis":{"title":"True probability in Each Bin","values":[0,0.2,0.4,0.6,0.8,1]}},"color":{"field":"m","type":"nominal","scale":{"domain":["L","C","X","S","R","G","P"],"range":["#008000","#ff0000","#0000ff","#ffa500","#800080","#00ffff","#999999"]},"legend":{"orient":"top-left","labelExpr":"datum.value=='L'?'LightGBM':datum.value=='C'?'CatBoost':datum.value=='X'?'XGBoost':datum.value=='S'?'SVM':datum.value=='R'?'Random Forest':datum.value=='G'?'Logistic Regression':'Perfect Calibration'"}}}},
{"data":{"name":"calC"},"mark":{"type":"line","strokeWidth":1,"point":{"filled":true,"size":7}},"encoding":{"x":{"field":"x","type":"quantitative","scale":{"domain":[-0.05,1.05],"nice":false,"zero":false},"axis":{"title":"Predicted probability","values":[0,0.2,0.4,0.6,0.8,1]}},"y":{"field":"y","type":"quantitative","scale":{"domain":[-0.05,1.05],"nice":false,"zero":false},"axis":{"title":"True probability in Each Bin","values":[0,0.2,0.4,0.6,0.8,1]}},"color":{"field":"m","type":"nominal"}}},
{"data":{"values":[{"t":"C"}]},"mark":{"type":"text","fontSize":15,"align":"center","baseline":"middle","color":"black"},"encoding":{"x":{"datum":-0.17,"type":"quantitative","scale":{"domain":[-0.05,1.05],"nice":false,"zero":false},"axis":{"title":"Predicted probability","values":[0,0.2,0.4,0.6,0.8,1]}},"y":{"datum":1.207,"type":"quantitative","scale":{"domain":[-0.05,1.05],"nice":false,"zero":false},"axis":{"title":"True probability in Each Bin","values":[0,0.2,0.4,0.6,0.8,1]}},"text":{"field":"t","type":"nominal"}}}
]},
{"width":183,"height":147,"title":{"text":["Evaluation of model performance using","ROC-AUC on the internal test set (3-year)"]},
"layer":[
{"data":{"name":"diag"},"mark":{"type":"line","color":"#808080","strokeDash":[3,2],"strokeWidth":0.8},"encoding":{"x":{"field":"x","type":"quantitative","scale":{"domain":[0,1],"nice":false,"zero":false},"axis":{"title":"False positive rate","values":[0,0.2,0.4,0.6,0.8,1]}},"y":{"field":"y","type":"quantitative","scale":{"domain":[0,1.05],"nice":false,"zero":false},"axis":{"title":"True positive rate","values":[0,0.2,0.4,0.6,0.8,1]}}}},
{"data":{"name":"rocD"},"mark":{"type":"line","strokeWidth":1.2},"encoding":{"x":{"field":"x","type":"quantitative","scale":{"domain":[0,1],"nice":false,"zero":false},"axis":{"title":"False positive rate","values":[0,0.2,0.4,0.6,0.8,1]}},"y":{"field":"y","type":"quantitative","scale":{"domain":[0,1.05],"nice":false,"zero":false},"axis":{"title":"True positive rate","values":[0,0.2,0.4,0.6,0.8,1]}},"color":{"field":"m","type":"nominal","scale":{"domain":["L","C","S","R","X","G"],"range":["#008000","#ff0000","#ffa500","#800080","#0000ff","#00ffff"]},"legend":{"orient":"bottom-right","labelExpr":"datum.value=='L'?'LightGBM (AUC =0.7922)':datum.value=='C'?'CatBoost (AUC =0.7899)':datum.value=='S'?'SVM (AUC =0.7689)':datum.value=='R'?'Random Forest (AUC =0.7591)':datum.value=='X'?'XGBoost (AUC =0.7864)':'Logistic Regression (AUC =0.6850)'"}}}},
{"data":{"values":[{"t":"D"}]},"mark":{"type":"text","fontSize":15,"align":"center","baseline":"middle","color":"black"},"encoding":{"x":{"datum":-0.11,"type":"quantitative","scale":{"domain":[0,1],"nice":false,"zero":false},"axis":{"title":"False positive rate","values":[0,0.2,0.4,0.6,0.8,1]}},"y":{"datum":1.2,"type":"quantitative","scale":{"domain":[0,1.05],"nice":false,"zero":false},"axis":{"title":"True positive rate","values":[0,0.2,0.4,0.6,0.8,1]}},"text":{"field":"t","type":"nominal"}}}
]},
{"width":183,"height":147,"title":{"text":["Evaluation of model performance using Precision-","Recall curves on the internal test set (3-year)"]},
"layer":[
{"data":{"name":"prE"},"mark":{"type":"line","strokeWidth":1},"encoding":{"x":{"field":"x","type":"quantitative","scale":{"domain":[-0.05,1.05],"nice":false,"zero":false},"axis":{"title":"Recall","values":[0,0.2,0.4,0.6,0.8,1]}},"y":{"field":"y","type":"quantitative","scale":{"domain":[0.475,1.025],"nice":false,"zero":false},"axis":{"title":"Precision","values":[0.5,0.6,0.7,0.8,0.9,1]}},"color":{"field":"m","type":"nominal","scale":{"domain":["L","C","X","S","R","G"],"range":["#008000","#ff0000","#0000ff","#ffa500","#800080","#00ffff"]},"legend":{"orient":"top-right","labelExpr":"datum.value=='L'?'LightGBM PR curve(AP =0.7483)':datum.value=='C'?'CatBoost PR curve(AP =0.7430)':datum.value=='X'?'XGBoost PR curve (AP =0.7326)':datum.value=='S'?'SVM PR curve(AP =0.7246)':datum.value=='R'?'Random Forest PR curve(AP =0.7045)':'Logistic Regression PR curve(AP =0.6354)'"}}}},
{"data":{"values":[{"t":"E"}]},"mark":{"type":"text","fontSize":15,"align":"center","baseline":"middle","color":"black"},"encoding":{"x":{"datum":-0.17,"type":"quantitative","scale":{"domain":[-0.05,1.05],"nice":false,"zero":false},"axis":{"title":"Recall","values":[0,0.2,0.4,0.6,0.8,1]}},"y":{"datum":1.104,"type":"quantitative","scale":{"domain":[0.475,1.025],"nice":false,"zero":false},"axis":{"title":"Precision","values":[0.5,0.6,0.7,0.8,0.9,1]}},"text":{"field":"t","type":"nominal"}}}
]},
{"width":183,"height":147,"title":{"text":["Evaluation of model calibration performance","on the internal test set (3-year)"]},
"layer":[
{"data":{"name":"diag"},"mark":{"type":"line","strokeDash":[3,2],"strokeWidth":0.8},"encoding":{"x":{"field":"x","type":"quantitative","scale":{"domain":[-0.05,1.05],"nice":false,"zero":false},"axis":{"title":"Predicted probability","values":[0,0.2,0.4,0.6,0.8,1]}},"y":{"field":"y","type":"quantitative","scale":{"domain":[-0.05,1.05],"nice":false,"zero":false},"axis":{"title":"True probability in Each Bin","values":[0,0.2,0.4,0.6,0.8,1]}},"color":{"field":"m","type":"nominal","scale":{"domain":["L","C","X","S","R","G","P"],"range":["#ff0000","#008000","#0000ff","#ffa500","#800080","#00ffff","#999999"]},"legend":{"orient":"top-left","labelExpr":"datum.value=='L'?'LightGBM':datum.value=='C'?'CatBoost':datum.value=='X'?'XGBoost':datum.value=='S'?'SVM':datum.value=='R'?'Random Forest':datum.value=='G'?'Logistic Regression':'Perfect Calibration'"}}}},
{"data":{"name":"calF"},"mark":{"type":"line","strokeWidth":1,"point":{"filled":true,"size":7}},"encoding":{"x":{"field":"x","type":"quantitative","scale":{"domain":[-0.05,1.05],"nice":false,"zero":false},"axis":{"title":"Predicted probability","values":[0,0.2,0.4,0.6,0.8,1]}},"y":{"field":"y","type":"quantitative","scale":{"domain":[-0.05,1.05],"nice":false,"zero":false},"axis":{"title":"True probability in Each Bin","values":[0,0.2,0.4,0.6,0.8,1]}},"color":{"field":"m","type":"nominal"}}},
{"data":{"values":[{"t":"F"}]},"mark":{"type":"text","fontSize":15,"align":"center","baseline":"middle","color":"black"},"encoding":{"x":{"datum":-0.17,"type":"quantitative","scale":{"domain":[-0.05,1.05],"nice":false,"zero":false},"axis":{"title":"Predicted probability","values":[0,0.2,0.4,0.6,0.8,1]}},"y":{"datum":1.207,"type":"quantitative","scale":{"domain":[-0.05,1.05],"nice":false,"zero":false},"axis":{"title":"True probability in Each Bin","values":[0,0.2,0.4,0.6,0.8,1]}},"text":{"field":"t","type":"nominal"}}}
]},
{"width":183,"height":147,"title":{"text":["Evaluation of model performance using","ROC-AUC on the internal test set (5-year)"]},
"layer":[
{"data":{"name":"diag"},"mark":{"type":"line","color":"#808080","strokeDash":[3,2],"strokeWidth":0.8},"encoding":{"x":{"field":"x","type":"quantitative","scale":{"domain":[0,1],"nice":false,"zero":false},"axis":{"title":"False positive rate","values":[0,0.2,0.4,0.6,0.8,1]}},"y":{"field":"y","type":"quantitative","scale":{"domain":[0,1.05],"nice":false,"zero":false},"axis":{"title":"True positive rate","values":[0,0.2,0.4,0.6,0.8,1]}}}},
{"data":{"name":"rocG"},"mark":{"type":"line","strokeWidth":1.2},"encoding":{"x":{"field":"x","type":"quantitative","scale":{"domain":[0,1],"nice":false,"zero":false},"axis":{"title":"False positive rate","values":[0,0.2,0.4,0.6,0.8,1]}},"y":{"field":"y","type":"quantitative","scale":{"domain":[0,1.05],"nice":false,"zero":false},"axis":{"title":"True positive rate","values":[0,0.2,0.4,0.6,0.8,1]}},"color":{"field":"m","type":"nominal","scale":{"domain":["L","C","S","R","X","G"],"range":["#008000","#ff0000","#ffa500","#800080","#0000ff","#00ffff"]},"legend":{"orient":"bottom-right","labelExpr":"datum.value=='L'?'LightGBM (AUC =0.8662)':datum.value=='C'?'CatBoost (AUC =0.8665)':datum.value=='S'?'SVM (AUC =0.8396)':datum.value=='R'?'Random Forest (AUC =0.8426)':datum.value=='X'?'XGBoost (AUC =0.8599)':'Logistic Regression (AUC =0.7226)'"}}}},
{"data":{"values":[{"t":"G"}]},"mark":{"type":"text","fontSize":15,"align":"center","baseline":"middle","color":"black"},"encoding":{"x":{"datum":-0.11,"type":"quantitative","scale":{"domain":[0,1],"nice":false,"zero":false},"axis":{"title":"False positive rate","values":[0,0.2,0.4,0.6,0.8,1]}},"y":{"datum":1.2,"type":"quantitative","scale":{"domain":[0,1.05],"nice":false,"zero":false},"axis":{"title":"True positive rate","values":[0,0.2,0.4,0.6,0.8,1]}},"text":{"field":"t","type":"nominal"}}}
]},
{"width":183,"height":147,"title":{"text":["Evaluation of model performance using Precision-","Recall curves on the internal test set (5-year)"]},
"layer":[
{"data":{"name":"prH"},"mark":{"type":"line","strokeWidth":1},"encoding":{"x":{"field":"x","type":"quantitative","scale":{"domain":[-0.05,1.05],"nice":false,"zero":false},"axis":{"title":"Recall","values":[0,0.2,0.4,0.6,0.8,1]}},"y":{"field":"y","type":"quantitative","scale":{"domain":[0.475,1.025],"nice":false,"zero":false},"axis":{"title":"Precision","values":[0.5,0.6,0.7,0.8,0.9,1]}},"color":{"field":"m","type":"nominal","scale":{"domain":["L","C","X","S","R","G"],"range":["#008000","#ff0000","#0000ff","#ffa500","#800080","#00ffff"]},"legend":{"orient":"top-right","labelExpr":"datum.value=='L'?'LightGBM PR curve(AP =0.7795)':datum.value=='C'?'CatBoost PR curve(AP =0.7776)':datum.value=='X'?'XGBoost PR curve (AP =0.7700)':datum.value=='S'?'SVM PR curve(AP =0.7657)':datum.value=='R'?'Random Forest PR curve(AP =0.7599)':'Logistic Regression PR curve(AP =0.7236)'"}}}},
{"data":{"values":[{"t":"H"}]},"mark":{"type":"text","fontSize":15,"align":"center","baseline":"middle","color":"black"},"encoding":{"x":{"datum":-0.17,"type":"quantitative","scale":{"domain":[-0.05,1.05],"nice":false,"zero":false},"axis":{"title":"Recall","values":[0,0.2,0.4,0.6,0.8,1]}},"y":{"datum":1.104,"type":"quantitative","scale":{"domain":[0.475,1.025],"nice":false,"zero":false},"axis":{"title":"Precision","values":[0.5,0.6,0.7,0.8,0.9,1]}},"text":{"field":"t","type":"nominal"}}}
]},
{"width":183,"height":147,"title":{"text":["Evaluation of model calibration performance","on the internal test set (5-year)"]},
"layer":[
{"data":{"name":"diag"},"mark":{"type":"line","strokeDash":[3,2],"strokeWidth":0.8},"encoding":{"x":{"field":"x","type":"quantitative","scale":{"domain":[-0.05,1.05],"nice":false,"zero":false},"axis":{"title":"Predicted probability","values":[0,0.2,0.4,0.6,0.8,1]}},"y":{"field":"y","type":"quantitative","scale":{"domain":[-0.05,1.05],"nice":false,"zero":false},"axis":{"title":"True probability in Each Bin","values":[0,0.2,0.4,0.6,0.8,1]}},"color":{"field":"m","type":"nominal","scale":{"domain":["L","C","X","S","R","G","P"],"range":["#008000","#ff0000","#0000ff","#ffa500","#800080","#00ffff","#999999"]},"legend":{"orient":"top-left","labelExpr":"datum.value=='L'?'LightGBM':datum.value=='C'?'CatBoost':datum.value=='X'?'XGBoost':datum.value=='S'?'SVM':datum.value=='R'?'Random Forest':datum.value=='G'?'Logistic Regression':'Perfect Calibration'"}}}},
{"data":{"name":"calI"},"mark":{"type":"line","strokeWidth":1,"point":{"filled":true,"size":7}},"encoding":{"x":{"field":"x","type":"quantitative","scale":{"domain":[-0.05,1.05],"nice":false,"zero":false},"axis":{"title":"Predicted probability","values":[0,0.2,0.4,0.6,0.8,1]}},"y":{"field":"y","type":"quantitative","scale":{"domain":[-0.05,1.05],"nice":false,"zero":false},"axis":{"title":"True probability in Each Bin","values":[0,0.2,0.4,0.6,0.8,1]}},"color":{"field":"m","type":"nominal"}}},
{"data":{"values":[{"t":"I"}]},"mark":{"type":"text","fontSize":15,"align":"center","baseline":"middle","color":"black"},"encoding":{"x":{"datum":-0.17,"type":"quantitative","scale":{"domain":[-0.05,1.05],"nice":false,"zero":false},"axis":{"title":"Predicted probability","values":[0,0.2,0.4,0.6,0.8,1]}},"y":{"datum":1.207,"type":"quantitative","scale":{"domain":[-0.05,1.05],"nice":false,"zero":false},"axis":{"title":"True probability in Each Bin","values":[0,0.2,0.4,0.6,0.8,1]}},"text":{"field":"t","type":"nominal"}}}
]}
],
"config":{
"font":"Liberation Sans",
"view":{"stroke":"#8c8c8c","strokeWidth":1},
"axis":{"grid":true,"gridColor":"#e3e3e3","gridWidth":0.8,"domain":false,"ticks":false,"tickSize":0,"labelFontSize":9.5,"titleFontSize":10.5,"labelColor":"#222222","titleColor":"#222222","labelPadding":1,"titlePadding":2,"titleFontWeight":"normal","format":".1f","labelFont":"Liberation Sans","titleFont":"Liberation Sans"},
"title":{"fontSize":9.5,"fontWeight":"normal","anchor":"middle","frame":"group","offset":-19,"lineHeight":11,"color":"#222222","font":"Liberation Sans"},
"legend":{"title":null,"fillColor":"white","strokeColor":"#cccccc","padding":2,"labelFontSize":3,"labelFont":"Liberation Sans","symbolSize":25,"symbolStrokeWidth":1,"rowPadding":0.6,"labelOffset":2,"offset":3,"cornerRadius":1,"labelLimit":300,"symbolType":"stroke"}
}
}
